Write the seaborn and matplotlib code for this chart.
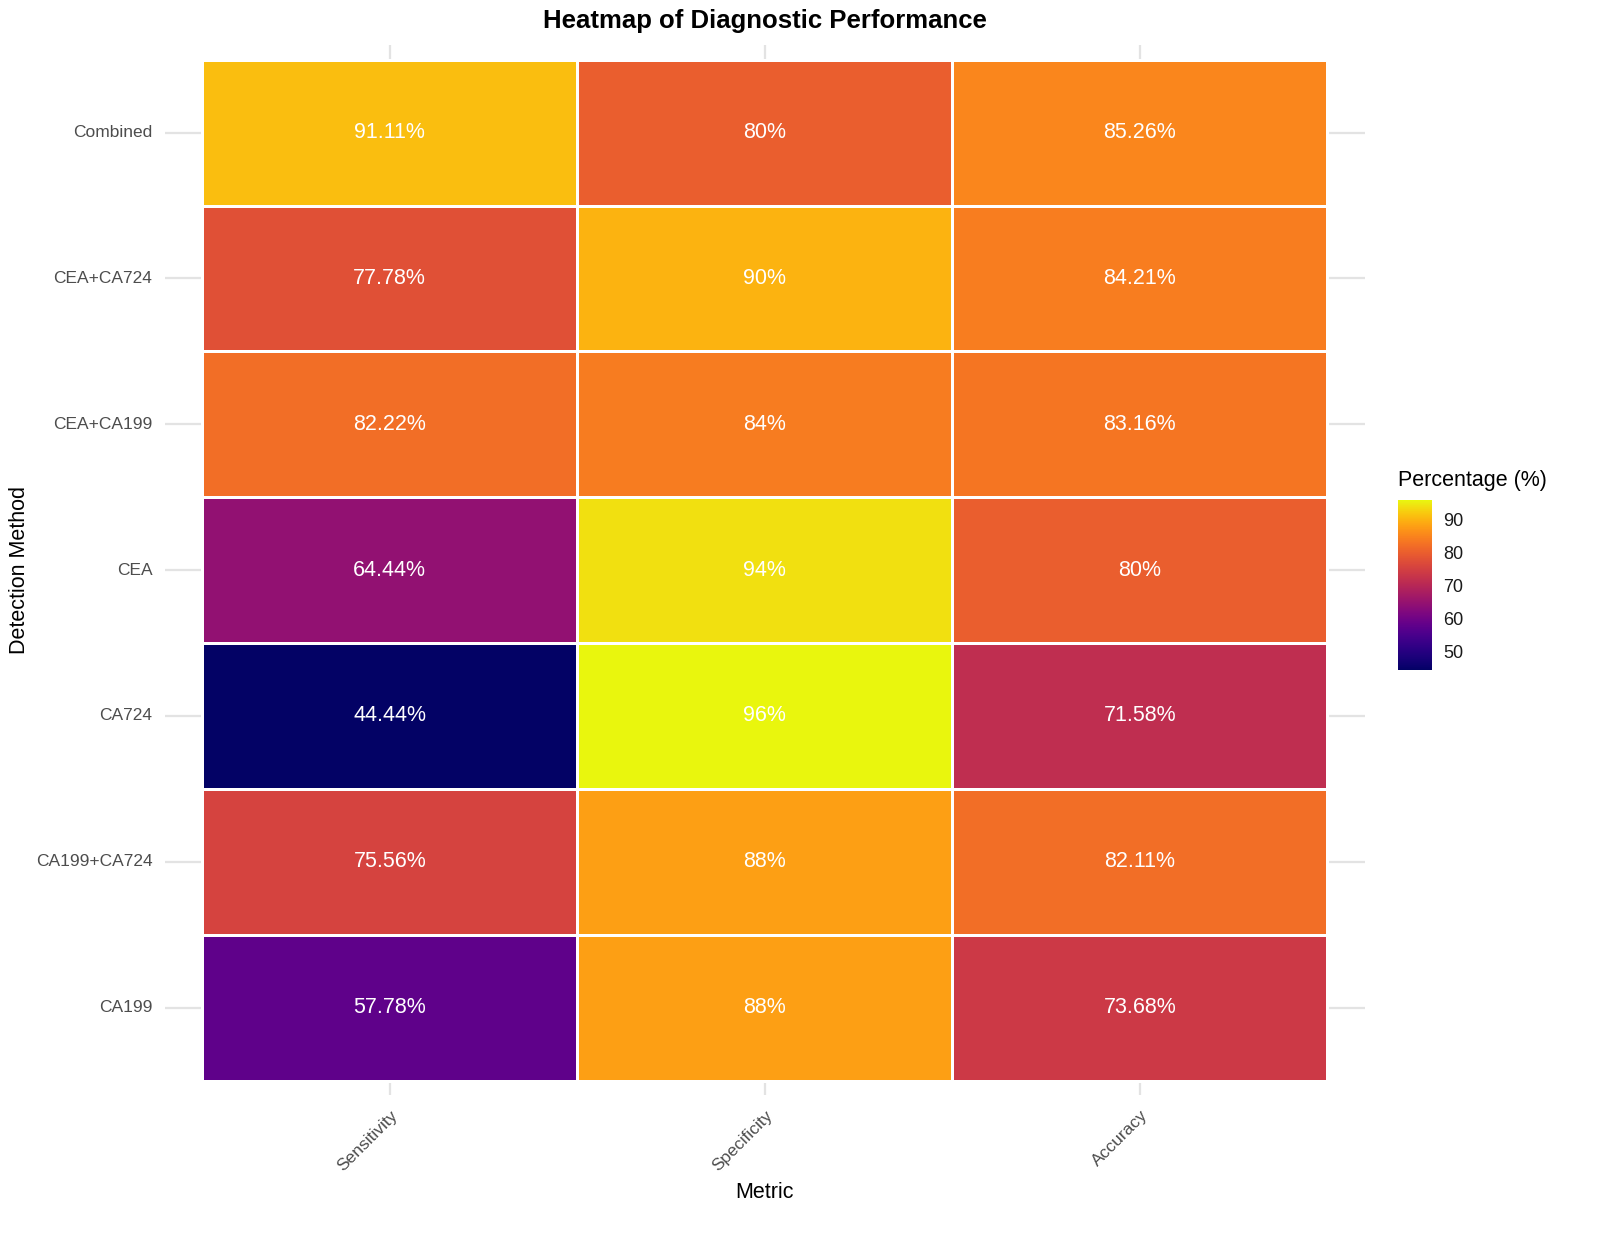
import numpy as np
import pandas as pd
import matplotlib
matplotlib.use("Agg")
import matplotlib.pyplot as plt
from matplotlib.colors import ListedColormap
import seaborn as sns

# data (rows top to bottom)
methods = ["Combined", "CEA+CA724", "CEA+CA199", "CEA", "CA724", "CA199+CA724", "CA199"]
metrics = ["Sensitivity", "Specificity", "Accuracy"]
sensitivity = [91.11, 77.78, 82.22, 64.44, 44.44, 75.56, 57.78]
specificity = [80, 90, 84, 94, 96, 88, 88]
accuracy = [85.26, 84.21, 83.16, 80, 71.58, 82.11, 73.68]
cbar_ticks = [50, 60, 70, 80, 90]

df = pd.DataFrame({"Sensitivity": sensitivity, "Specificity": specificity,
                   "Accuracy": accuracy}, index=methods)[metrics]
labels = df.map(lambda v: f"{v:g}%")

# reference looks like plasma, just a bit darker / more saturated
base = plt.get_cmap("plasma")(np.linspace(0, 1, 256))[:, :3]
cmap = ListedColormap(base ** 1.45)

sns.set_style("white")
plt.rcParams["font.family"] = ["Liberation Sans", "DejaVu Sans"]
plt.rcParams["text.color"] = "black"
plt.rcParams["axes.labelcolor"] = "black"

fig = plt.figure(figsize=(16, 12.36), dpi=100)
ax = fig.add_axes([0.103, 0.114, 0.75, 0.8495])
cax = fig.add_axes([0.874, 0.458, 0.021, 0.1375])

ax.set_axisbelow(True)
sns.heatmap(df, ax=ax, cmap=cmap, vmin=df.values.min(), vmax=df.values.max(),
            annot=labels, fmt="", annot_kws={"color": "white", "fontsize": 15.5},
            linewidths=1.0, linecolor="white", cbar_ax=cax)

ax.set_xlim(-0.1, 3.1)
ax.set_ylim(7.1, -0.1)
ax.grid(True, color="#e3e3e3", linewidth=1.6)
for s in ax.spines.values():
    s.set_visible(False)
ax.tick_params(length=0, pad=9, labelsize=12.5, labelcolor="#4d4d4d")
plt.setp(ax.get_yticklabels(), rotation=0)
plt.setp(ax.get_xticklabels(), rotation=45, ha="right", rotation_mode="anchor")

ax.set_xlabel("Metric", fontsize=15.5, labelpad=6)
ax.set_ylabel("Detection Method", fontsize=15.5, labelpad=4)
ax.set_title("Heatmap of Diagnostic Performance", fontsize=18.5, fontweight="bold", pad=12)

cb = ax.collections[0].colorbar
cb.outline.set_visible(False)
cb.set_ticks(cbar_ticks)
cax.tick_params(direction="in", color="white", length=5, width=1,
                left=True, right=True, labelsize=13, labelcolor="#1a1a1a", pad=8)
cax.set_title("Percentage (%)", fontsize=15.5, loc="left", pad=10)

fig.savefig("out.png", dpi=100)
